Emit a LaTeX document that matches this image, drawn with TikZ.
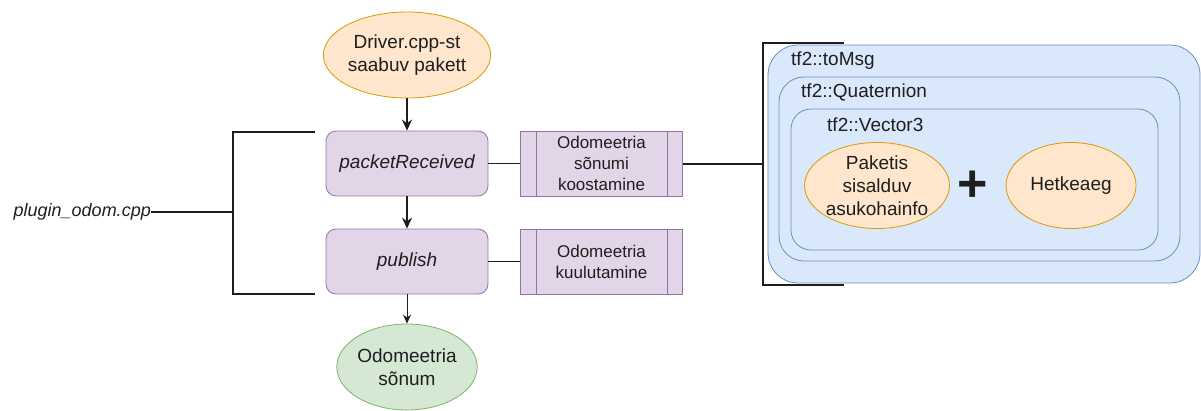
\documentclass[tikz,border=0pt]{standalone}
\usepackage{fontspec}
\setmainfont{Liberation Sans}
\usetikzlibrary{shapes.geometric,arrows.meta,calc}

\definecolor{ink}{HTML}{1E1E1E}
\definecolor{orfill}{HTML}{FFE6CC}
\definecolor{orline}{HTML}{D79B00}
\definecolor{pufill}{HTML}{E1D5E7}
\definecolor{puline}{HTML}{9673A6}
\definecolor{grfill}{HTML}{D5E8D4}
\definecolor{grline}{HTML}{82B366}
\definecolor{blfill}{HTML}{DAE8FC}
\definecolor{blline}{HTML}{6C8EBF}

\tikzset{
  txt/.style={text=ink, font=\fontsize{19}{23}\selectfont},
  oval/.style={ellipse, draw=orline, fill=orfill, line width=0.8pt,
    minimum width=130pt, minimum height=86pt, inner sep=0pt, align=center, txt},
  greenoval/.style={oval, draw=grline, fill=grfill},
  fnbox/.style={rectangle, rounded corners=10pt, draw=puline, fill=pufill, line width=0.8pt,
    minimum width=162pt, minimum height=65pt, inner sep=0pt, text=ink,
    font=\fontsize{19}{23}\selectfont\itshape},
  procbox/.style={rectangle, draw=puline, fill=pufill, line width=0.8pt,
    minimum width=162pt, minimum height=65pt, inner sep=0pt, align=center, text=ink,
    font=\fontsize{17}{21}\selectfont},
  container/.style={rectangle, draw=blline, fill=blfill, line width=0.8pt, inner sep=0pt},
  bracketline/.style={draw=ink, line width=2pt},
  thinline/.style={draw=ink, line width=1pt},
  flow/.style={draw=ink, line width=1.8pt, -{Stealth[length=11pt,width=10pt]}},
  thinflow/.style={draw=ink, line width=1pt, -{Stealth[length=9pt,width=8pt]}},
  label/.style={anchor=west, inner sep=0pt, txt},
}

\begin{document}
\begin{tikzpicture}[x=1pt, y=-1pt]
\useasboundingbox (0,0) rectangle (1201,410);

% main call chain
\node[oval] (src) at (407,55) {Driver.cpp-st\\saabuv pakett};
\node[fnbox] (recv) at (407,163.5) {packetReceived};
\node[fnbox] (pub) at (407,261.5) {publish};
\node[greenoval] (out) at (407,367) {Odomeetria\\sõnum};

\draw[flow] (src) -- (recv);
\draw[flow] (recv) -- (pub);
\draw[thinflow] (pub) -- (out);

% processing steps
\node[procbox] (build) at (601.5,163.5) {Odomeetria\\sõnumi\\koostamine};
\node[procbox] (announce) at (601.5,261.5) {Odomeetria\\kuulutamine};
\foreach \b in {build, announce} {
  \draw[puline, line width=0.8pt] ($(\b.north west)+(16,0)$) -- ($(\b.south west)+(16,0)$);
  \draw[puline, line width=0.8pt] ($(\b.north east)+(-16,0)$) -- ($(\b.south east)+(-16,0)$);
}
\draw[thinline] (recv) -- (build);
\draw[thinline] (pub) -- (announce);

% source file bracket
\node[text=ink, font=\fontsize{18}{22}\selectfont\itshape, inner sep=0pt, anchor=east] (file) at (151,212) {plugin\_odom.cpp};
\coordinate (lbTop) at (315,132);
\coordinate (lbBot) at (315,294);
\coordinate (lbMid) at (233,212);
\draw[bracketline] (lbTop) -| (lbMid) |- (lbBot);
\draw[bracketline] (file.east) -- (lbMid);

% nested message construction
\node[container, rounded corners=30pt, minimum width=432pt, minimum height=238pt] (msg) at (984,164) {};
\node[container, rounded corners=25pt, minimum width=401pt, minimum height=184pt] (quat) at (979.5,169) {};
\node[container, rounded corners=20pt, minimum width=367pt, minimum height=141pt] (vec) at (974.5,179.5) {};
\node[label] (msgLabel) at (791,61) {tf2::toMsg};
\node[label] (quatLabel) at (801,92) {tf2::Quaternion};
\node[label] (vecLabel) at (827,125) {tf2::Vector3};

\node[oval] (pos) at (877,185.5) {Paketis\\sisalduv\\asukohainfo};
\node[oval] (time) at (1071,185.5) {Hetkeaeg};
\node[text=ink, inner sep=0pt, font=\fontsize{52}{52}\selectfont\bfseries] (plus) at (973,186) {+};

% bracket around the message
\coordinate (rbTop) at (844,43);
\coordinate (rbBot) at (844,285);
\coordinate (rbMid) at (763,163.5);
\draw[bracketline] (rbTop) -| (rbMid) |- (rbBot);
\draw[bracketline] (build) -- (rbMid);
\end{tikzpicture}
\end{document}
